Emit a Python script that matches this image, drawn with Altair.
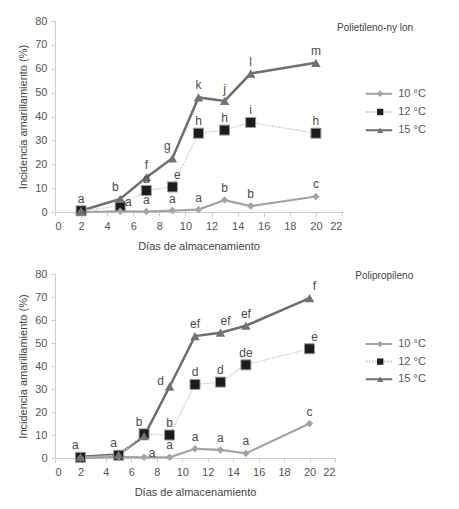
import altair as alt
import pandas as pd

DIAS = [2, 5, 7, 9, 11, 13, 15, 20]
SERIES = ["10 °C", "12 °C", "15 °C"]

# Polietileno-nylon
pe_10 = [0.0, 0.3, 0.2, 0.6, 1.0, 5.0, 2.5, 6.5]
pe_12 = [0.5, 2.5, 9.0, 10.5, 33.0, 34.3, 37.5, 33.0]
pe_15 = [0.5, 5.5, 14.5, 22.5, 48.0, 46.5, 58.0, 62.5]
pe_let_10 = ["", "", "a", "a", "a", "b", "b", "c"]
pe_let_12 = ["", "a", "d", "e", "h", "h", "i", "h"]
pe_let_15 = ["a", "b", "f", "g", "k", "j", "l", "m"]

# Polipropileno
pp_10 = [0.0, 0.5, 0.3, 0.3, 4.0, 3.5, 2.0, 15.0]
pp_12 = [0.3, 1.2, 10.5, 10.0, 32.0, 33.0, 40.5, 47.5]
pp_15 = [0.5, 1.5, 9.5, 31.0, 53.0, 54.5, 57.5, 69.5]
pp_let_10 = ["", "", "a", "a", "a", "a", "a", "c"]
pp_let_12 = ["", "", "b", "b", "d", "d", "de", "e"]
pp_let_15 = ["a", "a", "", "d", "ef", "ef", "ef", "f"]

# donde va cada letra respecto al punto
pe_pos = {
    "10 °C": ["above"] * 8,
    "12 °C": ["above", "right", "above", "aboveright", "above", "above", "above", "above"],
    "15 °C": ["above", "aboveleft", "above", "aboveleft", "above", "above", "above", "above"],
}
pp_pos = {
    "10 °C": ["above", "above", "right", "above", "above", "above", "above", "above"],
    "12 °C": ["above", "above", "aboveleft", "above", "above", "above", "above", "aboveright"],
    "15 °C": ["aboveleft", "aboveleft", "above", "left", "above", "aboveright", "above", "aboveright"],
}
OFFSETS = {
    "above": (0, -12),
    "right": (8, -4),
    "left": (-9, -6),
    "aboveleft": (-5, -12),
    "aboveright": (5, -12),
}

LINE_COLORS = {"10 °C": "#a3a3a3", "12 °C": "#d2d2d2", "15 °C": "#6e6e6e"}
FONT = "Liberation Sans"


def tabla(v10, v12, v15, l10, l12, l15, pos):
    rows = []
    for serie, vals, lets in [("10 °C", v10, l10), ("12 °C", v12, l12), ("15 °C", v15, l15)]:
        for i, d in enumerate(DIAS):
            rows.append({"dia": d, "valor": vals[i], "serie": serie,
                         "letra": lets[i], "pos": pos[serie][i]})
    return pd.DataFrame(rows)


def panel(df, titulo, titulo_y, w, h, spacing):
    x = alt.X("dia:Q", title="Días de almacenamiento",
              scale=alt.Scale(domain=[0, 22], nice=False),
              axis=alt.Axis(values=list(range(0, 23, 2)), grid=False, titlePadding=9))
    y = alt.Y("valor:Q", title="Incidencia amarillamiento (%)",
              scale=alt.Scale(domain=[0, 80], nice=False),
              axis=alt.Axis(values=list(range(0, 81, 10)), grid=False))
    base = alt.Chart(df).encode(x=x, y=y)

    l15 = base.transform_filter("datum.serie == '15 °C'").mark_line(
        color=LINE_COLORS["15 °C"], strokeWidth=2.5)
    l12 = base.transform_filter("datum.serie == '12 °C'").mark_line(
        color=LINE_COLORS["12 °C"], strokeWidth=1.3, strokeDash=[2, 1])
    l10 = base.transform_filter("datum.serie == '10 °C'").mark_line(
        color=LINE_COLORS["10 °C"], strokeWidth=2.2)
    p10 = base.transform_filter("datum.serie == '10 °C'").mark_point(
        shape="diamond", filled=True, size=55, color="#a3a3a3", opacity=1)
    p12 = base.transform_filter("datum.serie == '12 °C'").mark_square(
        size=100, color="#1c1c1c", stroke="#9a9a9a", strokeWidth=1, opacity=1)
    p15 = base.transform_filter("datum.serie == '15 °C'").mark_point(
        shape="triangle-up", filled=True, size=90, color="#727272", opacity=1)

    textos = []
    for pos, (dx, dy) in OFFSETS.items():
        textos.append(
            base.transform_filter(f"datum.pos == '{pos}' && datum.letra != ''")
            .mark_text(dx=dx, dy=dy, font=FONT, fontSize=12, color="#4a4a4a")
            .encode(text="letra:N")
        )

    plot = alt.layer(l15, l12, l10, p12, p10, p15, *textos).properties(width=w, height=h)

    # leyenda a la derecha, dibujada con sus propias escalas
    ley = pd.DataFrame({
        "serie": SERIES,
        "fila": [3, 2, 1],
        "x0": [0.08] * 3,
        "x1": [0.52] * 3,
        "xm": [0.32] * 3,
        "xt": [0.62] * 3,
    })
    lx = alt.Scale(domain=[0, 1], nice=False)
    ly = alt.Scale(domain=[-3.5, 7], nice=False)
    lb = alt.Chart(ley).encode(y=alt.Y("fila:Q", scale=ly, axis=None))
    reglas = lb.mark_rule(strokeWidth=2).encode(
        x=alt.X("x0:Q", scale=lx, axis=None), x2="x1:Q",
        color=alt.Color("serie:N", scale=alt.Scale(domain=SERIES, range=[LINE_COLORS[s] for s in SERIES]), legend=None),
        strokeDash=alt.StrokeDash("serie:N", scale=alt.Scale(domain=SERIES, range=[[1, 0], [2, 1], [1, 0]]), legend=None),
    )
    marcas = lb.mark_point(filled=True, opacity=1, size=40).encode(
        x=alt.X("xm:Q", scale=lx, axis=None),
        shape=alt.Shape("serie:N", scale=alt.Scale(domain=SERIES, range=["diamond", "square", "triangle-up"]), legend=None),
        fill=alt.Fill("serie:N", scale=alt.Scale(domain=SERIES, range=["#a3a3a3", "#1c1c1c", "#727272"]), legend=None),
    )
    etiquetas = lb.mark_text(align="left", font=FONT, fontSize=11, color="#555555").encode(
        x=alt.X("xt:Q", scale=lx, axis=None), text="serie:N")
    cab = alt.Chart(pd.DataFrame({"t": [titulo], "x": [0.87], "y": [titulo_y]})).mark_text(
        align="right", font=FONT, fontSize=10, color="#444444").encode(
        x=alt.X("x:Q", scale=lx, axis=None),
        y=alt.Y("y:Q", scale=ly, axis=None), text="t:N")
    leyenda = alt.layer(reglas, marcas, etiquetas, cab).properties(width=60, height=h)

    return alt.hconcat(plot, leyenda, spacing=spacing, bounds="flush")


pe = tabla(pe_10, pe_12, pe_15, pe_let_10, pe_let_12, pe_let_15, pe_pos)
pp = tabla(pp_10, pp_12, pp_15, pp_let_10, pp_let_12, pp_let_15, pp_pos)

chart = alt.vconcat(
    panel(pe, "Polietileno-ny lon", 6.6, 287, 191, 19),
    panel(pp, "Polipropileno", 6.9, 280, 184, 26),
    spacing=17,
).properties(
    padding={"left": 9, "top": 7, "right": 5, "bottom": 5}
).configure_view(stroke=None).configure_axis(
    labelFont=FONT, titleFont=FONT, labelFontSize=11, titleFontSize=11,
    labelColor="#555555", titleColor="#444444", titleFontWeight="normal",
    domainColor="#cccccc", tickColor="#cccccc", tickSize=4, labelPadding=4,
    titlePadding=6,
)

chart.save("out.html", embed_options={"renderer": "svg", "actions": False})
